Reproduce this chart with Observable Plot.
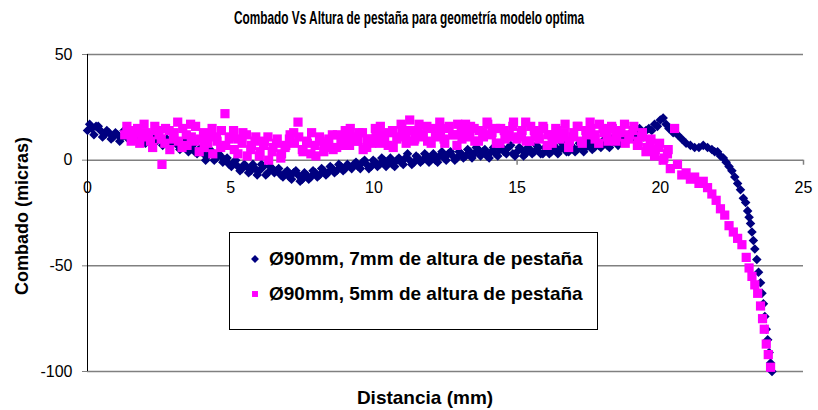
<!DOCTYPE html>
<html>
<head>
<meta charset="utf-8">
<script src="https://cdn.jsdelivr.net/npm/d3@7"></script>
<script src="https://cdn.jsdelivr.net/npm/@observablehq/plot@0.6"></script>
<style>
  body { margin: 0; background: #fff; font-family: "Liberation Sans", Arial, sans-serif; }
  #wrap { position: relative; width: 818px; height: 410px; }
  #title { position: absolute; left: 409px; top: 18px; transform: translate(-50%, -50%) scaleX(0.64); font-weight: bold; font-size: 18.5px; color: #000; white-space: nowrap; }
  #chart { position: absolute; left: 0; top: 35px; }
  #legend { position: absolute; left: 229px; top: 232px; width: 369px; height: 98px; border: 1px solid #000; background: #fff; box-sizing: border-box; }
  .item { position: absolute; left: 20px; font-weight: bold; font-size: 19px; color: #000; white-space: nowrap; line-height: 22px; }
  .item svg { vertical-align: middle; margin-right: 9px; position: relative; top: -1px; }
  #ytitle { position: absolute; left: 22px; top: 216px; transform: translate(-50%, -50%) rotate(-90deg); font-weight: bold; font-size: 18px; white-space: nowrap; }
  #xtitle { position: absolute; left: 425px; top: 398px; transform: translate(-50%, -50%); font-weight: bold; font-size: 19px; white-space: nowrap; }
</style>
</head>
<body>
<div id="wrap">
  <div id="title">Combado Vs Altura de pestaña para geometría modelo optima</div>
  <div id="chart"></div>
  <div id="ytitle">Combado (micras)</div>
  <div id="xtitle">Distancia (mm)</div>
  <div id="legend"></div>
</div>
<script>
const seriesNames = ["Ø90mm, 7mm de altura de pestaña", "Ø90mm, 5mm de altura de pestaña"];
const seriesColors = ["#000080", "#FF00FF"];
const xTicks = [0, 5, 10, 15, 20, 25];
const yTicks = [-100, -50, 0, 50];

const blueX = [0.0,0.15,0.3,0.45,0.6,0.75,0.9,1.05,1.2,1.35,1.5,1.65,1.8,1.95,2.1,2.25,2.4,2.55,2.7,2.85,3.0,3.15,3.3,3.45,3.6,3.75,3.9,4.05,4.2,4.35,4.5,4.65,4.8,4.95,5.1,5.25,5.4,5.55,5.7,5.85,6.0,6.15,6.3,6.45,6.6,6.75,6.9,7.05,7.2,7.35,7.5,7.65,7.8,7.95,8.1,8.25,8.4,8.55,8.7,8.85,9.0,9.15,9.3,9.45,9.6,9.75,9.9,10.05,10.2,10.35,10.5,10.65,10.8,10.95,11.1,11.25,11.4,11.55,11.7,11.85,12.0,12.15,12.3,12.45,12.6,12.75,12.9,13.05,13.2,13.35,13.5,13.65,13.8,13.95,14.1,14.25,14.4,14.55,14.7,14.85,15.0,15.15,15.3,15.45,15.6,15.75,15.9,16.05,16.2,16.35,16.5,16.65,16.8,16.95,17.1,17.25,17.4,17.55,17.7,17.85,18.0,18.15,18.3,18.45,18.6,18.75,18.9,19.05,19.2,19.35,19.5,19.6,19.7,19.8,19.9,20.0,20.1,20.2,20.3,20.45,20.6,20.75,20.9,21.05,21.2,21.35,21.5,21.65,21.8,21.9,22.0,22.1,22.2,22.3,22.4,22.5,22.6,22.7,22.8,22.9,22.98,23.05,23.1,23.15,23.2,23.25,23.3,23.37,23.43,23.5,23.55,23.6,23.65,23.7,23.75,23.8,23.85,23.9];
const blueY = [14,15,16,14,12,13,11,12,11,12,13,11,12,11,10,11,9,10,9,8,9,7,6,8,5,4,5,3,2,3,1,2,0,-2,-1,-3,-4,-3,-5,-4,-5,-3,-6,-4,-5,-7,-6,-8,-6,-7,-9,-7,-8,-6,-7,-5,-6,-4,-5,-3,-4,-3,-2,-3,-1,-2,-3,-1,-2,0,-1,-2,0,-1,1,0,-1,1,0,2,1,0,2,1,3,2,1,3,2,4,3,5,4,2,4,3,5,4,6,3,4,5,3,5,4,6,3,5,4,6,5,7,4,6,5,7,6,8,6,7,9,7,8,10,9,11,10,12,13,12,14,15,14,17,16,19,20,17,15,13,12,10,8,7,6,6,7,6,5,4,4,2,1,-1,-3,-5,-8,-11,-14,-18,-20,-24,-27,-30,-34,-38,-42,-47,-53,-58,-63,-68,-74,-80,-85,-91,-96,-100];

// second pass of the navy series (interleaved samples)
const blueX2 = [0.075,0.225,0.375,0.525,0.675,0.825,0.975,1.125,1.275,1.425,1.575,1.725,1.875,2.025,2.175,2.325,2.475,2.625,2.775,2.925,3.075,3.225,3.375,3.525,3.675,3.825,3.975,4.125,4.275,4.425,4.575,4.725,4.875,5.025,5.175,5.325,5.475,5.625,5.775,5.925,6.075,6.225,6.375,6.525,6.675,6.825,6.975,7.125,7.275,7.425,7.575,7.725,7.875,8.025,8.175,8.325,8.475,8.625,8.775,8.925,9.075,9.225,9.375,9.525,9.675,9.825,9.975,10.125,10.275,10.425,10.575,10.725,10.875,11.025,11.175,11.325,11.475,11.625,11.775,11.925,12.075,12.225,12.375,12.525,12.675,12.825,12.975,13.125,13.275,13.425,13.575,13.725,13.875,14.025,14.175,14.325,14.475,14.625,14.775,14.925,15.075,15.225,15.375,15.525,15.675,15.825,15.975,16.125,16.275,16.425,16.575,16.725,16.875,17.025,17.175,17.325,17.475,17.625,17.775,17.925,18.075,18.225,18.375,18.525,18.675,18.825,18.975,19.125,19.275,19.425];
const blueY2 = [17,12,16,11,14,10,13,9,14,10,13,10,13,8,12,8,11,7,10,7,10,5,9,4,7,3,6,0,5,0,3,-1,1,-3,0,-5,-2,-6,-2,-7,-2,-7,-3,-6,-4,-8,-5,-9,-5,-10,-6,-9,-5,-8,-4,-7,-3,-6,-2,-5,-2,-4,-1,-4,0,-4,0,-3,1,-3,1,-3,1,-2,3,-2,2,-1,3,-1,3,-1,4,0,4,0,4,1,5,1,6,2,5,1,6,2,6,3,7,2,6,2,6,3,7,3,6,3,7,3,8,4,7,4,8,4,9,5,9,6,10,6,11,7,12,9,13,10,15,11];

const pinkX = [1.3,1.45,1.6,1.75,1.9,2.05,2.2,2.35,2.5,2.6,2.7,2.85,3.0,3.15,3.3,3.45,3.6,3.75,3.9,4.05,4.2,4.35,4.5,4.65,4.8,4.95,5.1,5.25,5.4,5.55,5.7,5.85,6.0,6.15,6.3,6.45,6.6,6.75,6.9,7.05,7.2,7.35,7.5,7.65,7.8,7.95,8.1,8.25,8.4,8.55,8.7,8.85,9.0,9.15,9.3,9.45,9.6,9.75,9.9,10.05,10.2,10.35,10.5,10.65,10.8,10.95,11.1,11.25,11.4,11.55,11.7,11.85,12.0,12.15,12.3,12.45,12.6,12.75,12.9,13.05,13.2,13.35,13.5,13.65,13.8,13.95,14.1,14.25,14.4,14.55,14.7,14.85,15.0,15.15,15.3,15.45,15.6,15.75,15.9,16.05,16.2,16.35,16.5,16.65,16.8,16.95,17.1,17.25,17.4,17.55,17.7,17.85,18.0,18.15,18.3,18.45,18.6,18.75,18.9,19.05,19.2,19.35,19.5,19.65,19.8,19.95,20.1,20.25,20.35,20.5,20.6,20.75,20.9,21.05,21.2,21.35,21.5,21.65,21.8,21.95,22.1,22.25,22.4,22.55,22.7,22.85,23.0,23.1,23.2,23.3,23.4,23.5,23.57,23.63,23.7,23.77,23.85];
const pinkY = [12,14,10,15,11,13,9,16,12,-2,8,14,10,18,6,12,17,9,4,13,8,15,11,6,22,10,14,3,8,12,5,9,2,7,11,4,8,1,6,10,13,18,5,9,3,7,11,4,8,12,6,10,14,7,11,9,13,6,10,15,8,12,7,14,10,17,12,19,9,14,11,16,8,13,18,10,15,12,7,14,17,11,15,9,13,18,12,15,8,14,11,16,10,13,18,9,14,11,16,7,12,15,10,13,6,11,16,9,14,18,12,8,15,11,16,9,13,17,10,14,7,11,4,9,2,6,0,3,-4,15,-2,-7,-6,-9,-8,-11,-10,-13,-16,-19,-23,-26,-31,-34,-37,-40,-46,-51,-55,-59,-63,-69,-75,-80,-87,-92,-98];

// second pass of the magenta series (interleaved samples)
const pinkX2 = [1.375,1.525,1.675,1.825,1.975,2.125,2.275,2.425,2.575,2.725,2.875,3.025,3.175,3.325,3.475,3.625,3.775,3.925,4.075,4.225,4.375,4.525,4.675,4.825,4.975,5.125,5.275,5.425,5.575,5.725,5.875,6.025,6.175,6.325,6.475,6.625,6.775,6.925,7.075,7.225,7.375,7.525,7.675,7.825,7.975,8.125,8.275,8.425,8.575,8.725,8.875,9.025,9.175,9.325,9.475,9.625,9.775,9.925,10.075,10.225,10.375,10.525,10.675,10.825,10.975,11.125,11.275,11.425,11.575,11.725,11.875,12.025,12.175,12.325,12.475,12.625,12.775,12.925,13.075,13.225,13.375,13.525,13.675,13.825,13.975,14.125,14.275,14.425,14.575,14.725,14.875,15.025,15.175,15.325,15.475,15.625,15.775,15.925,16.075,16.225,16.375,16.525,16.675,16.825,16.975,17.125,17.275,17.425,17.575,17.725,17.875,18.025,18.175,18.325,18.475,18.625,18.775,18.925,19.075,19.225,19.375,19.525,19.675,19.825,19.975,20.125,20.275];
const pinkY2 = [16,9,13,8,17,12,6,14,10,15,5,13,9,15,7,11,16,10,6,12,3,9,14,7,11,5,10,13,2,7,11,4,9,0,6,10,3,7,12,8,11,4,8,13,2,9,6,10,5,12,7,11,15,9,13,5,10,8,12,16,9,13,6,11,15,8,14,10,17,12,9,15,11,14,8,16,12,17,10,13,16,9,14,11,17,13,8,15,10,12,18,11,14,9,16,13,10,15,12,8,14,11,17,9,13,16,8,12,15,10,17,13,9,15,11,14,8,12,16,9,13,6,10,5,8,1,5];

const blue = blueX.map((x, i) => ({x, y: blueY[i]}))
  .concat(blueX2.map((x, i) => ({x, y: blueY2[i]})));
const pink = pinkX.map((x, i) => ({x, y: pinkY[i]}))
  .concat(pinkX2.map((x, i) => ({x, y: pinkY2[i]})));
const font = "Liberation Sans, Arial, sans-serif";

const plot = Plot.plot({
  width: 818,
  height: 375,
  marginLeft: 87,
  marginRight: 15,
  marginTop: 19,
  marginBottom: 39,
  style: {fontFamily: font, fontSize: "16px", color: "#000", background: "#fff"},
  x: {domain: [0, 25], axis: null},
  y: {domain: [-100, 50], ticks: yTicks},
  marks: [
    Plot.gridY(yTicks, {stroke: "#808080", strokeOpacity: 1, strokeWidth: 1.5}),
    Plot.axisY(yTicks, {tickSize: 5, tickPadding: 10, stroke: "#808080", fontSize: 16, label: null, tickFormat: d => String(d)}),
    Plot.ruleX(xTicks.slice(1), {x: d => d, y1: 0, y2: -2.4, stroke: "#808080", strokeWidth: 1.5}),
    Plot.text(xTicks, {x: d => d, y: 0, dy: 28, text: d => String(d), fontSize: 16, fill: "#000"}),
    Plot.ruleX([0], {stroke: "#000", strokeWidth: 1}),
    Plot.dot(blue, {x: "x", y: "y", symbol: "diamond2", r: 4.3, fill: seriesColors[0], stroke: "none"}),
    Plot.dot(pink, {x: "x", y: "y", symbol: "square", r: 5.2, fill: seriesColors[1], stroke: "none"})
  ]
});
document.getElementById("chart").appendChild(plot);

// legend
const leg = document.getElementById("legend");
seriesNames.forEach((name, i) => {
  const div = document.createElement("div");
  div.className = "item";
  div.style.top = (i === 0 ? 15 : 50) + "px";
  const s = d3.create("svg").attr("width", 10).attr("height", 10);
  s.append("path")
    .attr("transform", "translate(5,5)")
    .attr("d", d3.symbol(i === 0 ? d3.symbolDiamond2 : d3.symbolSquare2, i === 0 ? 40 : 45)())
    .attr("fill", seriesColors[i]);
  div.appendChild(s.node());
  div.appendChild(document.createTextNode(name));
  leg.appendChild(div);
});
</script>
</body>
</html>
